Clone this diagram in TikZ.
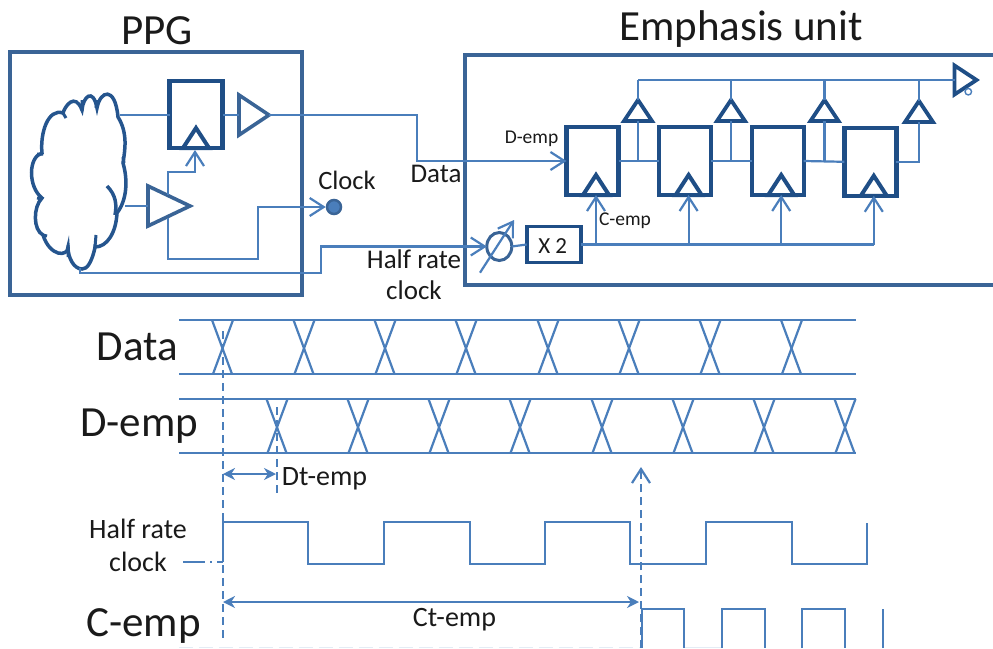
\documentclass[tikz,border=0pt]{standalone}
\usepackage{fontspec}
\setmainfont{Carlito}
\usetikzlibrary{arrows.meta, positioning, shapes.geometric}
\definecolor{wirecol}{HTML}{4A7EBB}
\definecolor{framecol}{HTML}{3A6496}
\definecolor{ffcol}{HTML}{1F4E86}
\definecolor{txtcol}{HTML}{1A1A1A}

\begin{document}
\begin{tikzpicture}[
      x=1pt, y=-1pt,
      node distance=40.6pt,
      frame/.style={draw=framecol, line width=3.8pt, anchor=north west, inner sep=0pt, outer sep=0pt},
      ffbox/.style={draw=ffcol, line width=4.4pt, fill=white, minimum width=52pt, minimum height=68pt, inner sep=0pt, outer sep=0pt},
      clkmark/.style={draw=ffcol, line width=4pt, isosceles triangle, isosceles triangle stretches, shape border rotate=90, minimum width=26pt, minimum height=20pt, inner sep=0pt, outer sep=0pt, anchor=lower side},
      bufright/.style={draw=framecol, line width=3.6pt, fill=white, isosceles triangle, isosceles triangle stretches, inner sep=0pt, outer sep=0pt, anchor=apex},
      bufup/.style={draw=ffcol, line width=3.8pt, fill=white, isosceles triangle, isosceles triangle stretches, shape border rotate=90, minimum width=28pt, minimum height=21pt, inner sep=0pt, outer sep=0pt, anchor=apex},
      cloudline/.style={draw=ffcol!85!wirecol, line width=3.5pt},
      wire/.style={draw=wirecol, line width=2.2pt},
      wirearr/.style={wire, -{Straight Barb[length=14pt, width=18pt, line width=2.2pt]}},
      dashwire/.style={wire, dash pattern=on 8pt off 5pt},
      dimarr/.style={wire, {Stealth[length=12pt, width=12pt]}-{Stealth[length=12pt, width=12pt]}},
      lbl/.style={text=txtcol, inner sep=0pt, font=\fontsize{28}{28}\selectfont},
      midlbl/.style={text=txtcol, inner sep=0pt, font=\fontsize{27}{27}\selectfont},
      biglbl/.style={text=txtcol, inner sep=0pt, font=\fontsize{43}{43}\selectfont},
      tinylbl/.style={text=txtcol, inner sep=0pt, font=\fontsize{19.5}{19.5}\selectfont}
    ]
    \useasboundingbox (0,0) rectangle (993,648);

    % outer boxes
    \node[frame, minimum width=292pt, minimum height=243pt] (ppg) at (10,52) {};
    \node[frame, minimum width=540pt, minimum height=230pt] (emph) at (465,55) {};
    \node[biglbl] (ppgname) at (157,31) {PPG};
    \node[biglbl] (emphname) at (741,29) {Emphasis unit};

    % generator
    \draw[cloudline, fill=white]
      (42,153) .. controls (40,133) and (48,108) .. (63,113)
      .. controls (65,106) and (75,92) .. (82,110)
      .. controls (83,97) and (93,87) .. (97,108)
      .. controls (100,91) and (115,85) .. (118,117)
      .. controls (128,133) and (125,150) .. (123,163)
      .. controls (128,180) and (127,200) .. (117,213)
      .. controls (116,233) and (107,247) .. (95,247)
      .. controls (97,235) and (93,270) .. (82,269)
      .. controls (74,269) and (68,258) .. (68,247)
      .. controls (68,257) and (50,257) .. (43,235)
      .. controls (33,230) and (33,207) .. (42,198)
      .. controls (28,187) and (28,157) .. (42,153) -- cycle;
    \draw[cloudline] (107,186) .. controls (116,195) and (117,205) .. (115,215);
    \draw[cloudline, line width=3pt] (63,113) -- (66,118) (82,100) -- (82,111) (97,100) -- (96,108)
      (68,245) -- (68,257) (96,235) -- (95,247) (43,235) -- (47,236) (37,198) -- (42,199) (37,154) -- (43,154) (123,157) -- (124,163);
    \coordinate (gendata) at (120,115);
    \coordinate (genclk) at (125,206);
    \coordinate (genhalf) at (80,268);

    % pattern generator parts
    \node[ffbox, minimum width=53pt, minimum height=67pt] (ffp) at (196,114.5) {};
    \node[clkmark] (clkp) at (ffp.south) {};
    \node[bufright, minimum width=40pt, minimum height=30pt] (bufd) at (269,115) {};
    \node[bufright, minimum width=40pt, minimum height=42pt] (bufc) at (190,206) {};
    \node[circle, draw=framecol, fill=wirecol, line width=2.5pt, minimum size=14pt, inner sep=0pt] (clkpin) at (334,207) {};
    \node[midlbl, font=\fontsize{26.5}{26.5}\selectfont] (clkname) at (347,180) {Clock};
    \node[midlbl] (dataname) at (436,174) {Data};
    \node[midlbl, align=center] (halfname) at (414,274.5) {Half rate\\[4pt]clock};

    \draw[wire] (gendata) -- (gendata -| ffp.west);
    \draw[wire] (gendata -| ffp.east) -- (bufd.lower side);
    \draw[wire] (genclk) -- (bufc.lower side);
    \coordinate (tapup) at (168,195);
    \coordinate (tapdown) at (168,218);
    \draw[wirearr] (tapup) |- (195,172) -- (195,150);
    \draw[wirearr] (tapdown) |- (258,259) |- (clkpin.west);

    % emphasis unit parts
    \node[ffbox] (ffa) at (592.5,161) {};
    \node[ffbox, right=of ffa] (ffb) {};
    \node[ffbox, right=of ffb] (ffc) {};
    \node[ffbox, right=of ffc, yshift=-0.8pt] (ffd) {};
    \foreach \n in {a,b,c,d} {
      \node[clkmark, xshift=3.5pt] (clk\n) at (ff\n.south) {};
    }
    \node[ffbox, minimum width=54pt, minimum height=36pt, line width=3.6pt] (xtwo) at (553.7,244.5) {};
    \node[inner sep=0pt, text=txtcol, font=\fontsize{23}{23}\selectfont] (xtwoname) at (552.7,246.5) {X 2};
    \node[ellipse, draw=framecol, line width=3pt, minimum width=25pt, minimum height=28pt, inner sep=0pt, outer sep=0pt] (phase) at (499.3,246.5) {};
    \coordinate (slasha) at (480,272.7);
    \coordinate (slashb) at (514,220);
    \draw[wirearr] (slasha) -- (slashb);

    \node[bufup] (outa) at (638,100) {};
    \node[bufup] (outb) at (731,100) {};
    \node[bufup] (outc) at (824.5,100) {};
    \node[bufup] (outd) at (919,101) {};
    \node[draw=ffcol, line width=3.8pt, fill=white, isosceles triangle, isosceles triangle stretches, minimum width=29pt, minimum height=22pt, inner sep=0pt, outer sep=0pt, anchor=apex] (outbuf) at (976.5,80) {};
    \node[circle, draw=wirecol, line width=1.4pt, fill=white, minimum size=6.5pt, inner sep=0pt] (bubble) at (968.3,91.7) {};

    \coordinate (topleft) at (638,80);
    \draw[wire] (topleft) -- (outbuf.lower side);
    \foreach \n in {a,b,c,d} {
      \draw[wire] (out\n.apex) -- (out\n.apex |- topleft);
    }
    \draw[wire] (ffa.east) -- (ffb.west);
    \draw[wire] (ffb.east) -- (ffc.west);
    \draw[wire] (ffc.east) -- (ffd.west);
    \draw[wire] (ffd.east) -| (outd.lower side);
    \draw[wire] (ffa.east -| outa.lower side) -- (outa.lower side);
    \draw[wire] (ffb.east -| outb.lower side) -- (outb.lower side);
    \draw[wire] (ffc.east -| outc.lower side) -- (outc.lower side);
    \coordinate (busend) at (clkd.lower side |- xtwo.east);
    \draw[wire, line width=2.8pt] (xtwo.east) -- (busend);
    \draw[wire] (phase.east) -- (xtwo.west);
    \draw[wirearr] (clka.lower side |- busend) -- (clka.lower side);
    \draw[wirearr] (clkb.lower side |- busend) -- (clkb.lower side);
    \draw[wirearr] (clkc.lower side |- busend) -- (clkc.lower side);
    \draw[wirearr] (busend) -- (clkd.lower side);
    \node[tinylbl] (dempname) at (531.5,139) {D-emp};
    \node[tinylbl] (cempname) at (625,221) {C-emp};

    % links between the two units
    \coordinate (datatop) at (417,115);
    \draw[wirearr] (bufd.apex) -- (datatop) |- (ffa.west);
    \draw[wirearr] (genhalf) |- (321,273) |- (phase.west);

    % waveforms
    \draw[wire] (179,320) -- (856,320);
    \draw[wire] (179,374) -- (856,374);
    \draw[wire] (179,399) -- (856,399);
    \draw[wire] (179,453) -- (856,453);
    \foreach \c in {222.5,304,385,466,548,629,710,791.5} {
      \draw[wire] (\c-10.5,320) -- (\c+9.5,374);
      \draw[wire] (\c+10.5,320) -- (\c-9.5,374);
    }
    \foreach \c in {277,358,439,520,602,683,764,845} {
      \draw[wire] (\c-10.5,399) -- (\c+9.5,453);
      \draw[wire] (\c+10.5,399) -- (\c-9.5,453);
    }
    \node[biglbl] (dataleft) at (137.5,347) {Data};
    \node[biglbl] (dempleft) at (139,426) {D-emp};
    \node[biglbl] (cempleft) at (143.5,626) {C-emp};
    \node[lbl, align=center] (halfleft) at (138,545) {Half rate\\[5pt]clock};
    \node[lbl] (dtname) at (324.5,479) {Dt-emp};
    \node[lbl] (ctname) at (454.5,620) {Ct-emp};

    \coordinate (markd) at (223,331);
    \coordinate (markdend) at (223,642);
    \coordinate (marke) at (277,407);
    \coordinate (markeend) at (277,497);
    \coordinate (markc) at (641,648);
    \coordinate (markcend) at (641,467);
    \draw[dashwire] (markd) -- (markdend);
    \draw[dashwire] (marke) -- (markeend);
    \draw[dashwire, -{Straight Barb[length=14pt, width=18pt, line width=2.2pt]}] (markc) -- (markcend);
    \coordinate (dta) at (223,474);
    \coordinate (dtb) at (276,474);
    \draw[dimarr] (dta) -- (dtb);
    \coordinate (cta) at (223,602);
    \coordinate (ctb) at (639,602);
    \draw[dimarr] (cta) -- (ctb);
    \coordinate (hstub) at (183,562);
    \draw[wire, dash pattern=on 22pt off 5pt on 2pt off 5pt on 8pt] (hstub) -- (223,562);

    \draw[wire] (223,562) -- (223,522) -- (308,522) -- (308,564) -- (384,564) -- (384,522) -- (470,522) -- (470,564)
      -- (545,564) -- (545,522) -- (630,522) -- (630,564) -- (706,564) -- (706,522) -- (792,522) -- (792,564)
      -- (867,564) -- (867,523);
    \draw[draw=wirecol!15, line width=1.5pt, dash pattern=on 14pt off 6pt] (179,647.5) -- (640,647.5);
    \draw[draw=wirecol!15, line width=1.5pt] (684,647.5) -- (722,647.5);
    \draw[wire] (642,648) -- (642,609) -- (684,609) -- (684,648);
    \draw[wire] (722,648) -- (722,609) -- (765,609) -- (765,648);
    \draw[wire] (802,648) -- (802,609) -- (845,609) -- (845,648);
    \draw[wire] (883,648) -- (883,609);
  \end{tikzpicture}
\end{document}
